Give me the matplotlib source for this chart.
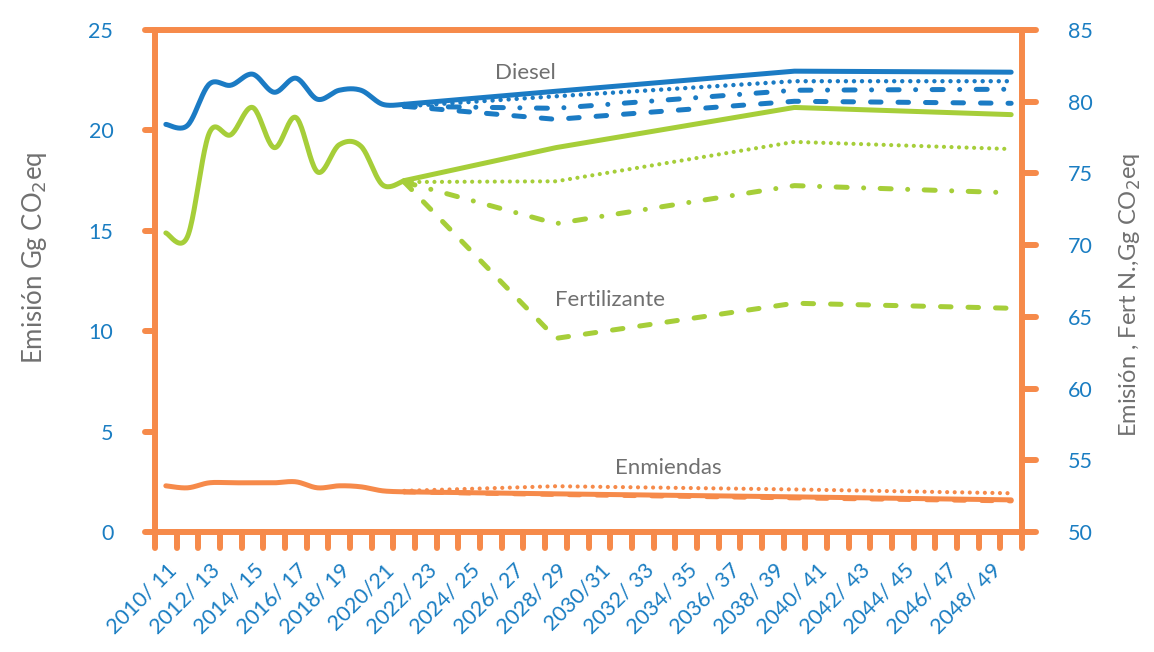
import numpy as np
import matplotlib
matplotlib.use("Agg")
import matplotlib.pyplot as plt
from matplotlib.transforms import ScaledTranslation

BLUE = "#1B7BC4"
GREEN = "#A6CE39"
ORANGE = "#F68A4A"
TICK_BLUE = "#1A7DC2"
GRAY = "#707070"

# 40 campaigns, 2010/11 ... 2049/50; only even ones get a label
N_CAT = 40
tick_labels = ["2010/ 11", "2012/ 13", "2014/ 15", "2016/ 17", "2018/ 19",
               "2020/21", "2022/ 23", "2024/ 25", "2026/ 27", "2028/ 29",
               "2030/31", "2032/ 33", "2034/ 35", "2036/ 37", "2038/ 39",
               "2040/ 41", "2042/ 43", "2044/ 45", "2046/ 47", "2048/ 49"]

# historical series, campaigns 0..11 (left axis except fertilizer)
diesel_hist = [20.3, 20.25, 22.3, 22.25, 22.8, 21.9, 22.6, 21.55, 22.0, 22.0, 21.3, 21.3]
fert_hist = [70.85, 70.6, 77.8, 77.7, 79.6, 76.8, 78.9, 75.1, 77.0, 76.9, 74.2, 74.5]
enm_hist = [2.3, 2.2, 2.45, 2.45, 2.45, 2.45, 2.5, 2.2, 2.3, 2.25, 2.05, 2.0]

# scenario values at campaigns 2021/22, 2028/29, 2039/40, 2049/50
proj_idx = [11, 18, 29, 39]
diesel_base = [21.3, 21.95, 22.95, 22.9]
diesel_dot = [21.2, 21.7, 22.45, 22.45]
diesel_dashdot = [21.2, 21.1, 22.0, 22.05]
diesel_dash = [21.2, 20.55, 21.45, 21.35]

fert_base = [74.5, 76.8, 79.6, 79.1]
fert_dot = [74.4, 74.45, 77.2, 76.7]
fert_dashdot = [74.4, 71.5, 74.15, 73.65]
fert_dash = [74.4, 63.5, 65.95, 65.6]

enm_base = [2.0, 1.9, 1.75, 1.6]
enm_dot = [2.05, 2.28, 2.12, 1.93]
enm_dash = [2.0, 1.87, 1.7, 1.55]

DOT = (0, (0.01, 1.8))
DASH = (0, (2.1, 3.4))
DASHDOT = (0, (2.2, 3.3, 0.01, 3.3))


def smooth(y, steps=24):
    # Excel-like smoothed line (bezier through the points)
    x = np.arange(len(y), dtype=float)
    y = np.asarray(y, dtype=float)
    px, py = np.r_[x[0], x, x[-1]], np.r_[y[0], y, y[-1]]
    xs, ys = [], []
    t = np.linspace(0, 1, steps)
    for i in range(1, len(px) - 2):
        p0, p1, p2, p3 = [np.array([px[j], py[j]]) for j in (i - 1, i, i + 1, i + 2)]
        c1 = p1 + (p2 - p0) / 6
        c2 = p2 - (p3 - p1) / 6
        pts = (np.outer((1 - t) ** 3, p1) + np.outer(3 * (1 - t) ** 2 * t, c1)
               + np.outer(3 * (1 - t) * t ** 2, c2) + np.outer(t ** 3, p2))
        xs.extend(pts[:, 0]); ys.extend(pts[:, 1])
    return np.array(xs), np.array(ys)


plt.rcParams["font.family"] = ["Lato", "DejaVu Sans"]

fig = plt.figure(figsize=(11.54, 6.52), dpi=100)
ax = fig.add_axes([155 / 1154, 120 / 652, 867 / 1154, 502 / 652])
ax2 = ax.twinx()

LW = 3.6
kw = dict(solid_capstyle="round", dash_capstyle="round")

# Enmiendas (left)
ax.plot(*smooth(enm_hist), color=ORANGE, lw=LW, **kw)
ax.plot(proj_idx, enm_dash, color=ORANGE, lw=LW, ls=DASH, **kw)
ax.plot(proj_idx, enm_base, color=ORANGE, lw=LW, **kw)
ax.plot(proj_idx, enm_dot, color=ORANGE, lw=3.0, ls=DOT, **kw)

# Diesel (left)
ax.plot(*smooth(diesel_hist), color=BLUE, lw=LW, **kw)
ax.plot(proj_idx, diesel_dash, color=BLUE, lw=LW, ls=DASH, **kw)
ax.plot(proj_idx, diesel_dashdot, color=BLUE, lw=LW, ls=DASHDOT, **kw)
ax.plot(proj_idx, diesel_dot, color=BLUE, lw=3.2, ls=DOT, **kw)
ax.plot(proj_idx, diesel_base, color=BLUE, lw=LW, **kw)

# Fertilizante (right)
ax2.plot(*smooth(fert_hist), color=GREEN, lw=LW, **kw)
ax2.plot(proj_idx, fert_dash, color=GREEN, lw=LW, ls=DASH, **kw)
ax2.plot(proj_idx, fert_dashdot, color=GREEN, lw=LW, ls=DASHDOT, **kw)
ax2.plot(proj_idx, fert_dot, color=GREEN, lw=3.0, ls=DOT, **kw)
ax2.plot(proj_idx, fert_base, color=GREEN, lw=LW, **kw)

ax.set_xlim(-0.5, N_CAT - 0.5)
ax.set_ylim(0, 25)
ax2.set_ylim(50, 85)
ax.set_yticks(range(0, 26, 5))
ax2.set_yticks(range(50, 86, 5))
ax.set_xticks(range(0, N_CAT, 2))
ax.set_xticklabels(tick_labels, rotation=45, ha="right", va="center",
                   rotation_mode="anchor")

ax.tick_params(axis="x", length=0, pad=25, labelsize=15.5, labelcolor=TICK_BLUE)
ax.tick_params(axis="y", length=0, pad=30, labelsize=15.5, labelcolor=TICK_BLUE)
ax2.tick_params(axis="y", length=0, pad=33, labelsize=15.5, labelcolor=TICK_BLUE)
shift = ScaledTranslation(8 / 100, 0, fig.dpi_scale_trans)
for lab in ax.get_xticklabels():
    lab.set_transform(lab.get_transform() + shift)

for s in ax2.spines.values():
    s.set_visible(False)
for s in ax.spines.values():
    s.set_color(ORANGE)
    s.set_linewidth(4.3)
    s.set_capstyle("round")

# tick marks with rounded ends
tk = dict(color=ORANGE, lw=4.3, solid_capstyle="round", clip_on=False)
for v in range(0, 26, 5):
    ax.plot([0, -10 / 867], [v, v], transform=ax.get_yaxis_transform(), **tk)
for v in range(50, 86, 5):
    ax2.plot([1, 1 + 14 / 867], [v, v], transform=ax2.get_yaxis_transform(), **tk)
for b in np.arange(-0.5, N_CAT, 1.0):
    ax.plot([b, b], [0, -16 / 502], transform=ax.get_xaxis_transform(), **tk)

ax.set_ylabel("Emisión Gg CO$_2$eq", fontsize=18.5, color=GRAY)
ax.yaxis.set_label_coords(-0.122, 0.546)
ax2.set_ylabel("Emisión , Fert N.,Gg CO$_2$eq", fontsize=17, color=GRAY)
ax2.yaxis.set_label_coords(1.11, 0.472)

ax.text(16.6, 22.86, "Diesel", fontsize=16, color=GRAY, ha="center", va="center")
ax2.text(20.5, 66.2, "Fertilizante", fontsize=16, color=GRAY, ha="center", va="center")
ax.text(23.2, 3.19, "Enmiendas", fontsize=16, color=GRAY, ha="center", va="center")

fig.savefig("out.png", dpi=100)
